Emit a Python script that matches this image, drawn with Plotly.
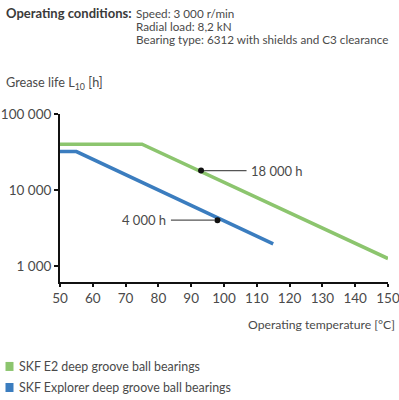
import math
import plotly.graph_objects as go

# ---- data ----
green_temp = [50, 75, 150]
green_life = [40000, 40000, 1250]
blue_temp = [50, 55, 115]
blue_life = [32000, 32000, 1950]
marker_temp = [93, 98]
marker_life = [18000, 4000]
marker_labels = ["18 000 h", "4 000 h"]
series_names = ["SKF E2 deep groove ball bearings", "SKF Explorer deep groove ball bearings"]
x_ticks = [50, 60, 70, 80, 90, 100, 110, 120, 130, 140, 150]
y_ticks = [1000, 10000, 100000]
y_tick_labels = ["1 000", "10 000", "100 000"]
conditions = ["Speed: 3 000 r/min", "Radial load: 8,2 kN", "Bearing type: 6312 with shields and C3 clearance"]

GREEN = "#8cc56e"
BLUE = "#3b7dbf"
TXT = "#4a4a4a"
FONT = "Lato"

W, H = 399, 400
L, R = 60, 388
T, B = 114, 281.7


def px(x):
    return (x - L) / (R - L)


def py(y):
    return (B - y) / (B - T)


fig = go.Figure()
fig.add_trace(go.Scatter(x=green_temp, y=green_life, mode="lines",
                         line=dict(color=GREEN, width=3.5), showlegend=False))
fig.add_trace(go.Scatter(x=blue_temp, y=blue_life, mode="lines",
                         line=dict(color=BLUE, width=3.5), showlegend=False))
fig.add_trace(go.Scatter(x=marker_temp, y=marker_life, mode="markers",
                         marker=dict(color="#111111", size=6), showlegend=False))

annotations = []
# callouts
offsets = [76, -73]
for t, v, lab, ax in zip(marker_temp, marker_life, marker_labels, offsets):
    annotations.append(dict(x=t, y=math.log10(v), xref="x", yref="y", text=lab, showarrow=True,
                            arrowhead=0, arrowwidth=1.2, arrowcolor="#555555",
                            ax=ax, ay=0, standoff=3, borderpad=4,
                            font=dict(family=FONT, size=13, color=TXT)))

# header
annotations.append(dict(x=px(4), y=py(13), xref="paper", yref="paper", xanchor="left",
                        yanchor="middle", showarrow=False,
                        text="<b>Operating conditions:</b>",
                        font=dict(family=FONT, size=13, color="#3a3a3a")))
for i, c in enumerate(conditions):
    annotations.append(dict(x=px(134), y=py(13 + 13.3 * i), xref="paper", yref="paper",
                            xanchor="left", yanchor="middle", showarrow=False, text=c,
                            font=dict(family=FONT, size=11.7, color=TXT)))
# axis titles
annotations.append(dict(x=px(4), y=py(83), xref="paper", yref="paper", xanchor="left",
                        yanchor="middle", showarrow=False,
                        text="Grease life L<sub>10</sub> [h]",
                        font=dict(family=FONT, size=12.7, color=TXT)))
annotations.append(dict(x=px(397), y=py(324), xref="paper", yref="paper", xanchor="right",
                        yanchor="middle", showarrow=False,
                        text="Operating temperature [°C]",
                        font=dict(family=FONT, size=12.2, color=TXT)))
# legend
shapes = []
for i, (name, col) in enumerate(zip(series_names, [GREEN, BLUE])):
    yc = 366 + 21 * i
    shapes.append(dict(type="rect", xref="paper", yref="paper",
                       x0=px(5.5), x1=px(13.5), y0=py(yc - 4.5), y1=py(yc + 4.5),
                       fillcolor=col, line=dict(width=0)))
    annotations.append(dict(x=px(17), y=py(yc), xref="paper", yref="paper", xanchor="left",
                            yanchor="middle", showarrow=False, text=name,
                            font=dict(family=FONT, size=12.4, color=TXT)))

fig.update_layout(
    width=W, height=H,
    margin=dict(l=L, r=W - R, t=T, b=H - B, autoexpand=False),
    paper_bgcolor="white", plot_bgcolor="white",
    annotations=annotations, shapes=shapes,
    xaxis=dict(range=[50, 150], tickvals=x_ticks, showgrid=False, zeroline=False,
               automargin=False, ticklabeloverflow="allow",
               showline=True, linecolor="#111111", linewidth=2,
               ticks="outside", ticklen=3, tickwidth=1.5, tickcolor="#111111",
               tickfont=dict(family=FONT, size=13.5, color=TXT)),
    yaxis=dict(type="log", range=[2.788, 5], tickvals=y_ticks, ticktext=y_tick_labels,
               showgrid=False, zeroline=False, automargin=False, ticklabeloverflow="allow",
               showline=True, linecolor="#111111", linewidth=2,
               ticks="outside", ticklen=4, tickwidth=1.5, tickcolor="#111111",
               tickfont=dict(family=FONT, size=13.5, color=TXT)),
)

fig.write_html("out.html", config={"displayModeBar": False},
               post_script="document.body.style.margin='0';")
